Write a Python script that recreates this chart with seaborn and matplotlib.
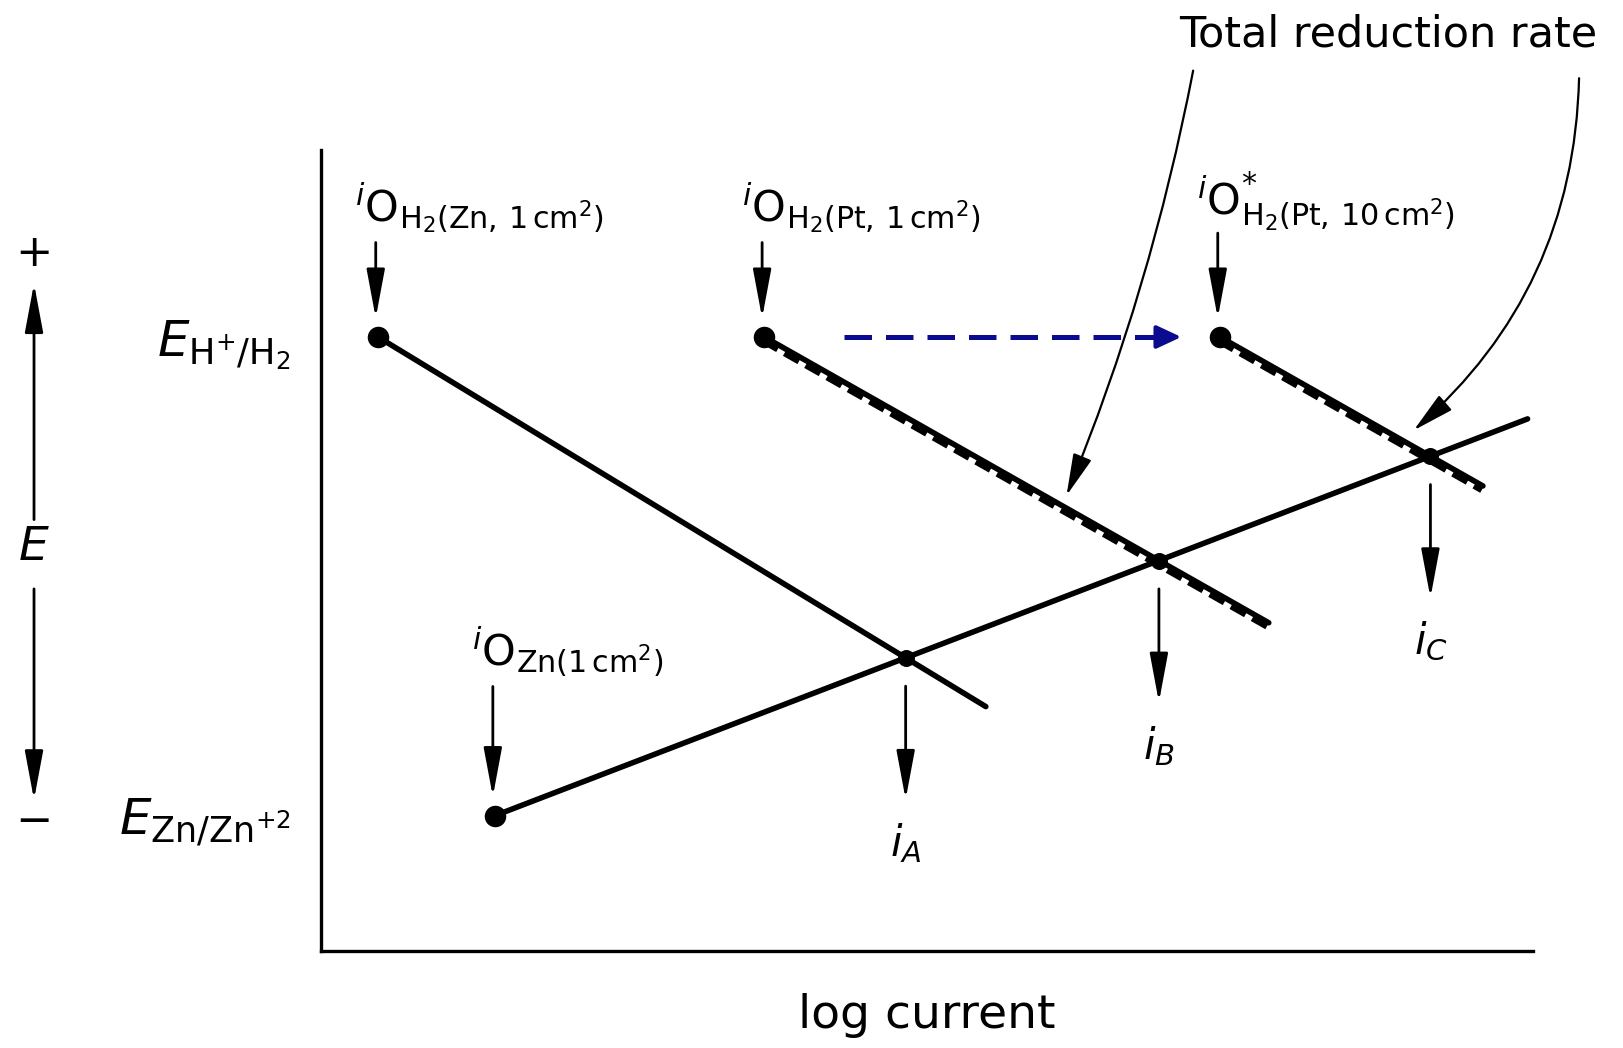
import numpy as np
import pandas as pd
import matplotlib
matplotlib.use("Agg")
import matplotlib.pyplot as plt
import seaborn as sns

# Equilibrium potentials (V)
e_eq_h2 = 0.0
e_eq_zn = -0.76
# Exchange currents (log current, arbitrary origin)
log_i0_h2_zn = 0.125
log_i0_zn = 0.382
log_i0_h2_pt1 = 0.973
log_i0_h2_pt10 = 1.973
# Tafel slopes (V per decade)
b_h2_zn = 0.44
b_h2_pt = 0.41
b_zn = 0.278
# Where each polarization line stops (log current)
end_h2_zn = 1.459
end_h2_pt1 = 2.08
end_h2_pt10 = 2.55
end_zn = 2.648

# Axis ticks
tick_values = [e_eq_zn, e_eq_h2]
tick_labels = [r"$E_{\mathrm{Zn/Zn^{+2}}}$", r"$E_{\mathrm{H^{+}/H_2}}$"]

sns.set_style("white")
plt.rcParams["font.family"] = ["DejaVu Sans"]
plt.rcParams["mathtext.fontset"] = "dejavusans"
for key in ["text.color", "axes.labelcolor", "xtick.color", "ytick.color"]:
    plt.rcParams[key] = "black"

fig = plt.figure(figsize=(16.24, 10.48), dpi=100)
ax = fig.add_axes([0.1977, 0.0926, 0.7463, 0.7643])
ax.set_xlim(0, 2.66)
ax.set_ylim(-0.975, 0.297)


def cathodic(x0, b, x1, e0=e_eq_h2):
    x = np.array([x0, x1])
    return pd.DataFrame({"logi": x, "E": e0 - b * (x - x0)})


def anodic(x0, b, x1, e0=e_eq_zn):
    x = np.array([x0, x1])
    return pd.DataFrame({"logi": x, "E": e0 + b * (x - x0)})


def crossing(x0c, bc, x0a, ba, ec=e_eq_h2, ea=e_eq_zn):
    x = (ec + bc * x0c - ea + ba * x0a) / (bc + ba)
    return x, ec - bc * (x - x0c)


lines = {
    "h2_zn": cathodic(log_i0_h2_zn, b_h2_zn, end_h2_zn),
    "h2_pt1": cathodic(log_i0_h2_pt1, b_h2_pt, end_h2_pt1),
    "h2_pt10": cathodic(log_i0_h2_pt10, b_h2_pt, end_h2_pt10),
    "zn": anodic(log_i0_zn, b_zn, end_zn),
}

lw = 4.0
for key, df in lines.items():
    sns.lineplot(data=df, x="logi", y="E", color="black", lw=lw,
                 sort=False, estimator=None, ax=ax, solid_capstyle="round")

# Total reduction rate drawn as a dashed line hugging the Pt lines
for key in ["h2_pt1", "h2_pt10"]:
    df = lines[key].copy()
    df["E"] = df["E"] - 0.007
    df["logi"] = df["logi"] - 0.003
    sns.lineplot(data=df, x="logi", y="E", color="black", lw=4.0,
                 sort=False, estimator=None, ax=ax, dashes=False,
                 linestyle=(0, (3.0, 1.4)))

# Exchange-current dots
starts = pd.DataFrame({
    "logi": [log_i0_h2_zn, log_i0_h2_pt1, log_i0_h2_pt10, log_i0_zn],
    "E": [e_eq_h2, e_eq_h2, e_eq_h2, e_eq_zn],
})
sns.scatterplot(data=starts, x="logi", y="E", color="black", s=240,
                edgecolor="black", linewidth=0, ax=ax, zorder=5)

# Corrosion points
xa, ea = crossing(log_i0_h2_zn, b_h2_zn, log_i0_zn, b_zn)
xb, eb = crossing(log_i0_h2_pt1, b_h2_pt, log_i0_zn, b_zn)
xc, ec = crossing(log_i0_h2_pt10, b_h2_pt, log_i0_zn, b_zn)
cross = pd.DataFrame({"logi": [xa, xb, xc], "E": [ea, eb, ec]})
sns.scatterplot(data=cross, x="logi", y="E", color="black", s=150,
                linewidth=0, ax=ax, zorder=5)

arrow_kw = dict(arrowstyle="-|>,head_length=1.5,head_width=0.28",
                color="black", lw=2.0, mutation_scale=20,
                shrinkA=0, shrinkB=0)

# i0 labels with their arrows
i0_labels = [
    (log_i0_h2_zn, e_eq_h2, r"${}^{i}\mathrm{O}_{\mathrm{H_2(Zn,\,1\,cm^2)}}$", 0.12, 0.205),
    (log_i0_h2_pt1, e_eq_h2, r"${}^{i}\mathrm{O}_{\mathrm{H_2(Pt,\,1\,cm^2)}}$", 0.12, 0.205),
    (log_i0_h2_pt10, e_eq_h2, r"${}^{i}\mathrm{O}^{*}_{\mathrm{H_2(Pt,\,10\,cm^2)}}$", 0.135, 0.215),
    (log_i0_zn, e_eq_zn, r"${}^{i}\mathrm{O}_{\mathrm{Zn(1\,cm^2)}}$", 0.175, 0.26),
]
for x0, e0, label, alen, lab_dy in i0_labels:
    ax.annotate("", xy=(x0 - 0.005, e0 + 0.03), xytext=(x0 - 0.005, e0 + 0.03 + alen),
                arrowprops=arrow_kw, annotation_clip=False)
    ax.text(x0 - 0.05, e0 + lab_dy, label, fontsize=31, ha="left", va="center")

# Corrosion current arrows
for x0, e0, label in [(xa, ea, r"$i_A$"), (xb, eb, r"$i_B$"), (xc, ec, r"$i_C$")]:
    ax.annotate("", xy=(x0, e0 - 0.225), xytext=(x0, e0 - 0.045),
                arrowprops=arrow_kw, annotation_clip=False)
    ax.text(x0, e0 - 0.295, label, fontsize=30, ha="center", va="center")

# Shift of the Pt exchange current with area
ax.plot([log_i0_h2_pt1 + 0.175, log_i0_h2_pt10 - 0.12], [e_eq_h2, e_eq_h2],
        color="#0b0b8f", lw=3.6, linestyle=(0, (5.5, 2.8)))
ax.annotate("", xy=(log_i0_h2_pt10 - 0.085, e_eq_h2),
            xytext=(log_i0_h2_pt10 - 0.13, e_eq_h2),
            arrowprops=dict(arrowstyle="-|>,head_length=0.75,head_width=0.35",
                            color="#0b0b8f", lw=3.0, mutation_scale=20,
                            shrinkA=0, shrinkB=0))

# Total reduction rate callouts
ax.text(2.341, 0.480, "Total reduction rate", fontsize=31, ha="center",
        va="center")
thin_kw = dict(arrowstyle="-|>,head_length=1.3,head_width=0.3",
               color="black", lw=1.6, mutation_scale=20, shrinkA=0, shrinkB=0)
x_tip1 = 1.636
ax.annotate("", xy=(x_tip1, e_eq_h2 - b_h2_pt * (x_tip1 - log_i0_h2_pt1) + 0.02),
            xytext=(1.914, 0.423),
            arrowprops=dict(thin_kw, connectionstyle="arc3,rad=-0.05"),
            annotation_clip=False)
x_tip2 = 2.398
ax.annotate("", xy=(x_tip2, e_eq_h2 - b_h2_pt * (x_tip2 - log_i0_h2_pt10) + 0.026),
            xytext=(2.761, 0.411),
            arrowprops=dict(thin_kw, connectionstyle="arc3,rad=-0.22"),
            annotation_clip=False)

# Potential direction indicator
ax.text(-0.63, 0.132, "+", fontsize=32, ha="center", va="center")
ax.annotate("", xy=(-0.63, 0.085), xytext=(-0.63, -0.29),
            arrowprops=arrow_kw, annotation_clip=False)
ax.text(-0.63, -0.334, r"$E$", fontsize=34, ha="center", va="center")
ax.annotate("", xy=(-0.63, -0.735), xytext=(-0.63, -0.40),
            arrowprops=arrow_kw, annotation_clip=False)
ax.text(-0.63, -0.77, "\u2212", fontsize=32, ha="center", va="center")

# Axes
sns.despine(ax=ax)
for side in ["left", "bottom"]:
    ax.spines[side].set_linewidth(2.4)
    ax.spines[side].set_color("black")
ax.set_xticks([])
ax.set_yticks(tick_values)
ax.set_yticklabels(tick_labels, fontsize=36)
ax.tick_params(axis="y", direction="in", length=24, width=2.2, pad=22,
               colors="black")
ax.set_xlabel("log current", fontsize=34, labelpad=30)
ax.set_ylabel("")

fig.savefig("out.png", dpi=100, facecolor="white")
